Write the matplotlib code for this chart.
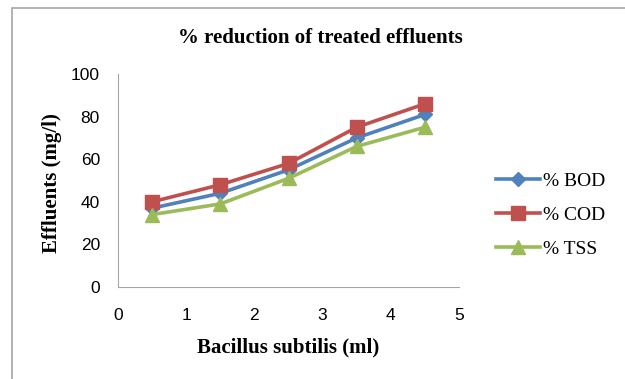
import matplotlib
matplotlib.use("Agg")
import matplotlib.pyplot as plt
from matplotlib.patches import Rectangle

x = [0.5, 1.5, 2.5, 3.5, 4.5]
bod = [37, 44, 55, 70, 81]
cod = [40, 48, 58, 75, 86]
tss = [34, 39, 51, 66, 75]

labels = ["% BOD", "% COD", "% TSS"]
colors = ["#4F81BD", "#C0504D", "#9BBB59"]
markers = ["D", "s", "^"]

fig = plt.figure(figsize=(6.25, 3.79), dpi=100)
fig.patches.append(Rectangle((12/625, -0.1), 1.2, 1 - 8/379 + 0.1, transform=fig.transFigure,
                             fill=False, edgecolor="#a6a6a6", linewidth=1.2))
ax = fig.add_axes([118/625, 1 - 287/379, 341/625, 213/379])

for ys, lab, c, m in zip([bod, cod, tss], labels, colors, markers):
    ax.plot(x, ys, color=c, marker=m, markersize=9.5 if m != "D" else 7.5,
            linewidth=2.6, label=lab)

ax.set_xlim(0, 5)
ax.set_ylim(0, 100)
ax.set_xticks(range(0, 6))
ax.set_yticks(range(0, 101, 20))
for s in ["top", "right"]:
    ax.spines[s].set_visible(False)
for s in ["left", "bottom"]:
    ax.spines[s].set_color("#a6a6a6")
ax.tick_params(length=0, labelsize=12.5)
ax.tick_params(axis="y", pad=13)
ax.tick_params(axis="x", pad=15)
for t in ax.get_xticklabels() + ax.get_yticklabels():
    t.set_family("Liberation Sans")

fig.text(320/625, 1 - 38/379, "% reduction of treated effluents", ha="center", va="center",
         family="Liberation Serif", fontweight="bold", fontsize=15)
ax.set_xlabel("Bacillus subtilis (ml)", family="Liberation Serif", fontweight="bold", fontsize=15)
ax.set_ylabel("Effluents (mg/l)", family="Liberation Serif", fontweight="bold", fontsize=15)
ax.xaxis.set_label_coords(0.5, -0.235)
ax.yaxis.set_label_coords(-0.165, 0.49)

fig.legend(loc="center left", bbox_to_anchor=(478/625, 1 - 215/379), frameon=False,
           prop={"family": "Liberation Serif", "size": 14}, handlelength=2.3,
           handletextpad=0.15, labelspacing=0.85)

fig.savefig("out.png", dpi=100)
